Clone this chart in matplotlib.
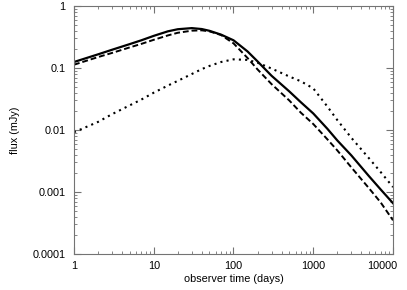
import numpy as np
import matplotlib
matplotlib.use("Agg")
import matplotlib.pyplot as plt
import matplotlib.transforms as mtransforms
from matplotlib.ticker import LogLocator, FixedFormatter, FixedLocator, NullFormatter

# Data ----------------------------------------------------------------------
t_days = [1, 2, 3, 5, 7, 10, 15, 20, 30, 40, 50, 70, 100, 150, 200, 300,
          500, 700, 1000, 1500, 2000, 3000, 5000, 7000, 10000]

flux_solid = [0.125, 0.166, 0.197, 0.243, 0.28, 0.33, 0.39, 0.422, 0.44,
              0.425, 0.398, 0.345, 0.28, 0.185, 0.128, 0.075, 0.042, 0.028,
              0.0185, 0.0105, 0.0068, 0.0039, 0.0018, 0.0011, 0.00066]

flux_dashed = [0.113, 0.15, 0.175, 0.215, 0.245, 0.285, 0.335, 0.37, 0.40,
               0.405, 0.39, 0.34, 0.25, 0.145, 0.095, 0.055, 0.03, 0.019,
               0.0125, 0.0071, 0.0047, 0.0025, 0.00115, 0.00068, 0.00035]

flux_dotted = [0.0092, 0.0135, 0.018, 0.025, 0.031, 0.040, 0.052, 0.062,
               0.080, 0.096, 0.108, 0.125, 0.138, 0.135, 0.122, 0.098, 0.073,
               0.061, 0.047, 0.024, 0.0145, 0.0075, 0.0035, 0.0021, 0.0012]

x_ticks = [1, 10, 100, 1000, 10000]
x_labels = ["1", "10", "100", "1000", "10000"]
y_ticks = [0.0001, 0.001, 0.01, 0.1, 1]
y_labels = ["0.0001", "0.001", "0.01", "0.1", "1"]

# Figure -------------------------------------------------------------------
plt.rcParams['font.family'] = ['Liberation Sans', 'DejaVu Sans']
fig = plt.figure(figsize=(4.07, 2.90), dpi=100)
ax = fig.add_axes([0.1818, 0.1241, 0.7838, 0.8552])

ax.plot(t_days, flux_solid, color='black', lw=1.6, ls='-')
ax.plot(t_days, flux_dashed, color='black', lw=1.4, ls=(0, (3, 1.5)))
ax.plot(t_days, flux_dotted, color='black', lw=1.5, ls=(0, (1, 2)))

ax.set_xscale('log')
ax.set_yscale('log')
ax.set_xlim(1, 10000)
ax.set_ylim(0.0001, 1)

ax.xaxis.set_major_locator(FixedLocator(x_ticks))
ax.xaxis.set_major_formatter(FixedFormatter(x_labels))
ax.yaxis.set_major_locator(FixedLocator(y_ticks))
ax.yaxis.set_major_formatter(FixedFormatter(y_labels))
ax.xaxis.set_minor_locator(LogLocator(base=10, subs=np.arange(2, 10), numticks=20))
ax.yaxis.set_minor_locator(LogLocator(base=10, subs=np.arange(2, 10), numticks=20))
ax.xaxis.set_minor_formatter(NullFormatter())
ax.yaxis.set_minor_formatter(NullFormatter())

ax.tick_params(which='both', direction='in', top=True, right=True,
               color='0.45', labelsize=7.8)
ax.tick_params(which='major', length=5, width=0.8)
ax.tick_params(axis='x', which='major', pad=5)
ax.tick_params(axis='y', which='major', pad=6)
ax.tick_params(which='minor', length=2.5, width=0.6)
for s in ax.spines.values():
    s.set_color('0.45')
    s.set_linewidth(0.8)

# last x label sits inside the figure, pulled left like in the original
last = ax.get_xticklabels()[-1]
last.set_horizontalalignment('right')
last.set_transform(last.get_transform() +
                   mtransforms.ScaledTranslation(4 / 100, 0, fig.dpi_scale_trans))

ax.set_xlabel("observer time (days)", fontsize=7.8, labelpad=2.5)
ax.set_ylabel("flux (mJy)", fontsize=7.8, labelpad=9)

fig.savefig("out.png", dpi=100)
